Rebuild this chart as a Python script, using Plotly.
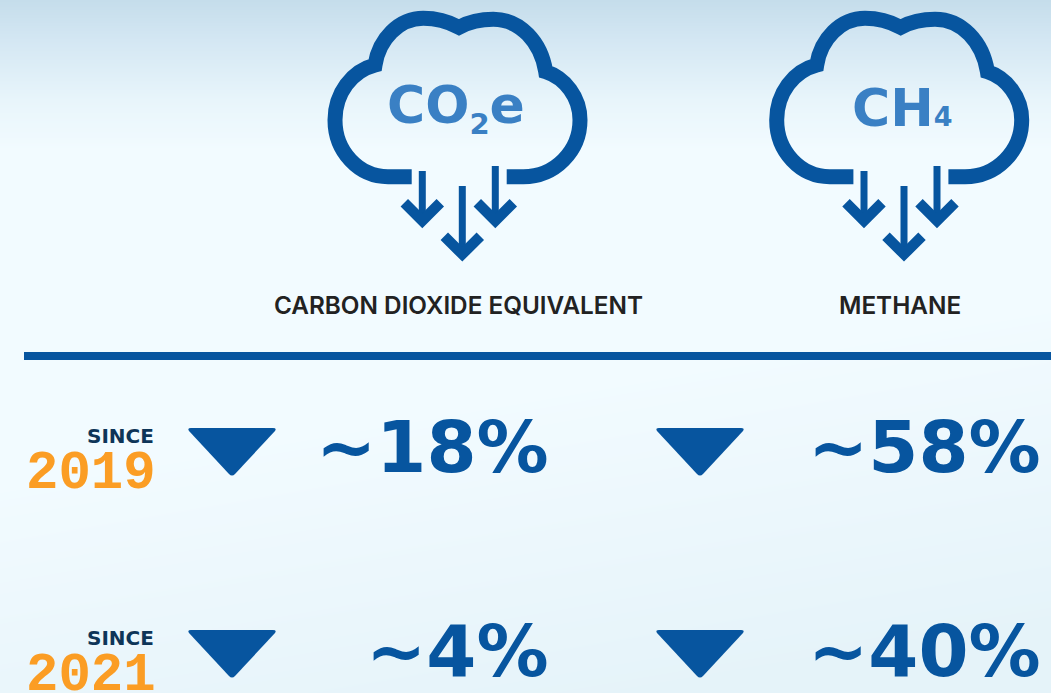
import base64, struct, zlib
import numpy as np
import plotly.graph_objects as go

# ---------- data ----------
gases = ['CO<sub><span style="font-size:29px">2</span></sub>e', 'CH<span style="font-size:27px">4</span>']
gas_names = ["CARBON DIOXIDE EQUIVALENT", "METHANE"]
periods = ["2019", "2021"]
period_prefix = "SINCE"
reductions_co2e = ["~18%", "~4%"]
reductions_ch4 = ["~58%", "~40%"]

# ---------- layout constants ----------
W, H = 1051, 693
BLUE = "#07559F"
LIGHT = "#3A80C4"
ORANGE = "#FB9D24"
NAVY = "#0E3558"
CLOUD_DX = [0, 441.67]
GAS_X = [456, 902]
NAME_X = [458, 900]
VALUE_R = [551, 1043]
TRI_X = [232, 700]
ROW_DY = [0, 202]
VALUE_DY = [0, 204]


def background():
    ys, xs = np.mgrid[0:H, 0:W]
    stops_y = [0, 40, 100, 150, 693]
    base = np.stack([
        np.interp(ys, stops_y, [197, 212, 232, 242, 242]),
        np.interp(ys, stops_y, [221, 231, 245, 251, 251]),
        np.interp(ys, stops_y, [235, 243, 251, 255, 255]),
    ], axis=-1)
    t = np.clip((xs / W * 0.55 + (ys - 480) / 213 * 0.65), 0, 1)[..., None]
    img = base * (1 - t) + np.array([229, 243, 249]) * t
    img = img.round().astype(np.uint8)
    raw = b"".join(b"\x00" + img[r].tobytes() for r in range(H))

    def chunk(tag, data):
        return struct.pack(">I", len(data)) + tag + data + struct.pack(">I", zlib.crc32(tag + data))

    png = (b"\x89PNG\r\n\x1a\n" + chunk(b"IHDR", struct.pack(">IIBBBBB", W, H, 8, 2, 0, 0, 0))
           + chunk(b"IDAT", zlib.compress(raw, 9)) + chunk(b"IEND", b""))
    return "data:image/png;base64," + base64.b64encode(png).decode()


def cloud_path(dx):
    def p(x, y):
        return f"{x + dx:.1f},{y:.1f}"
    segs = [
        ("M", [(411.7, 176.7)]), ("L", [(388, 176.7)]),
        ("C", [(358.7, 176.7), (335, 151.5), (335, 120)]),
        ("C", [(335, 93), (352, 71), (375, 65)]),
        ("C", [(379, 39), (399, 18.3), (423.3, 18.3)]),
        ("C", [(437, 18.3), (449, 22), (459, 27.3)]),
        ("C", [(469, 22), (481, 19.3), (493.3, 19.3)]),
        ("C", [(520, 19.3), (541, 42), (545.7, 71.7)]),
        ("C", [(565, 78), (580, 97), (580, 120)]),
        ("C", [(580, 151), (555, 176.7), (523.3, 176.7)]),
        ("L", [(506.7, 176.7)]),
    ]
    return " ".join(c + " ".join(p(*q) for q in pts) for c, pts in segs)


ARROWS = [(422.3, 171, 220.8), (462.3, 186, 254.2), (495.3, 166, 220.8)]

shapes = []
NOFILL = "rgba(0,0,0,0)"
for dx in CLOUD_DX:
    shapes.append(dict(type="path", path=cloud_path(dx), xref="x", yref="y",
                       line=dict(color=BLUE, width=15), fillcolor=NOFILL))
    for x, top, tip in ARROWS:
        shapes.append(dict(type="path", path=f"M{x + dx:.1f},{top} L{x + dx:.1f},{tip}", xref="x", yref="y",
                           line=dict(color=BLUE, width=7), fillcolor=NOFILL))
        shapes.append(dict(type="path", xref="x", yref="y", fillcolor=NOFILL, line=dict(color=BLUE, width=10.5),
                           path=f"M{x + dx - 18:.1f},{tip - 18:.1f} L{x + dx:.1f},{tip} L{x + dx + 18:.1f},{tip - 18:.1f}"))
shapes.append(dict(type="line", x0=24, x1=W, y0=356, y1=356, xref="x", yref="y",
                   line=dict(color=BLUE, width=8)))


def triangle_path(cx, dy):
    L, R, T, B = cx - 44, cx + 44, 428 + dy, 476 + dy
    return (f"M{L + 3},{T} L{R - 3},{T} Q{R + 1},{T} {R - 1},{T + 3} L{cx + 3},{B - 2} "
            f"Q{cx},{B + 1} {cx - 3},{B - 2} L{L + 1},{T + 3} Q{L - 1},{T} {L + 3},{T} Z")


for dy in ROW_DY:
    for cx in TRI_X:
        shapes.append(dict(type="path", path=triangle_path(cx, dy), xref="x", yref="y",
                           line=dict(width=0), fillcolor=BLUE))

ann = []


def text(x, y, s, size, color, anchor="center", family="DejaVu Sans", weight=700):
    ann.append(dict(x=x, y=y, text=s, xref="x", yref="y", showarrow=False, xanchor=anchor, yanchor="middle",
                    font=dict(size=size, color=color, family=family, weight=weight)))


for i, g in enumerate(gases):
    text(GAS_X[i], 108, g, 52, LIGHT)
    text(NAME_X[i], 305, gas_names[i], 24.3, "#222222", family="Inter", weight=600)
for r, period in enumerate(periods):
    text(156, 436 + ROW_DY[r], period_prefix, 20, NAVY, "right")
    text(158, 473 + ROW_DY[r], period, 54, ORANGE, "right", family="Liberation Mono")
    text(VALUE_R[0], 447 + VALUE_DY[r], reductions_co2e[r], 72, BLUE, "right")
    text(VALUE_R[1], 447 + VALUE_DY[r], reductions_ch4[r], 72, BLUE, "right")

fig = go.Figure()
fig.add_trace(go.Scatter(x=[], y=[], hoverinfo="skip", showlegend=False))
fig.update_layout(
    width=W, height=H, margin=dict(l=0, r=0, t=0, b=0), showlegend=False,
    paper_bgcolor="#F2FBFF", plot_bgcolor="rgba(0,0,0,0)",
    xaxis=dict(range=[0, W], visible=False, fixedrange=True),
    yaxis=dict(range=[H, 0], visible=False, fixedrange=True),
    shapes=shapes, annotations=ann,
    images=[dict(source=background(), xref="paper", yref="paper", x=0, y=1, sizex=1, sizey=1,
                 xanchor="left", yanchor="top", sizing="stretch", layer="below")],
)
fig.write_html("out.html", config=dict(displayModeBar=False),
               post_script="document.body.style.margin='0';")
